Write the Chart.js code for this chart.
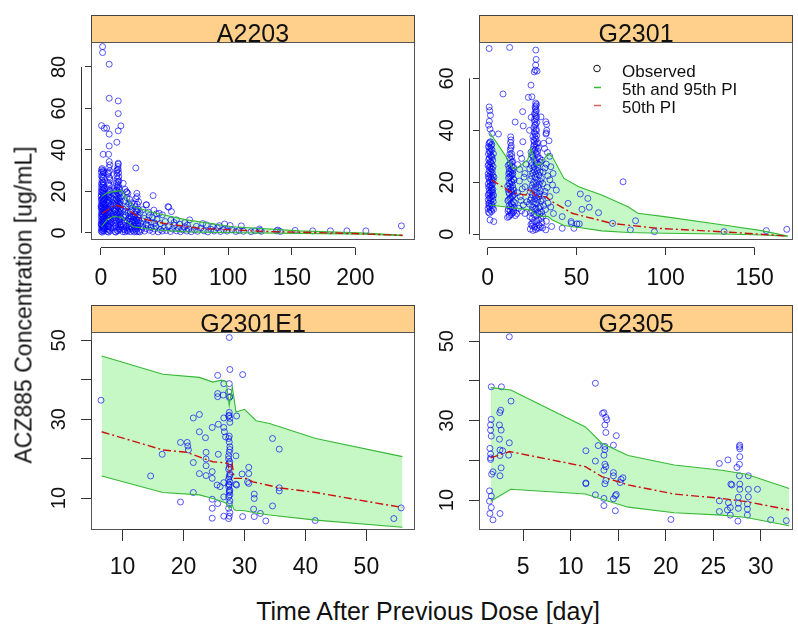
<!DOCTYPE html>
<html>
<head>
<meta charset="utf-8">
<title>ACZ885 VPC by study</title>
<script src="https://cdn.jsdelivr.net/npm/chart.js@4.4.1/dist/chart.umd.min.js"></script>
<style>
  html, body { margin: 0; padding: 0; background: #fff; }
  #page { position: relative; width: 798px; height: 624px; overflow: hidden;
          font-family: "Liberation Sans", Arial, sans-serif; color: #111; }
  #page canvas { position: absolute; }
  .ttl { position: absolute; white-space: nowrap; line-height: 1; }
  #ylab { left: 24px; top: 305px; font-size: 23px; transform: translate(-50%, -50%) rotate(-90deg); }
  #xlab { left: 428px; top: 599px; font-size: 25px; transform: translateX(-50%); }
</style>
</head>
<body>
<div id="page">
  <canvas id="p1" width="420" height="300" style="left:0;top:0"></canvas>
  <canvas id="p2" width="398" height="300" style="left:400px;top:0"></canvas>
  <canvas id="p3" width="420" height="300" style="left:0;top:290px"></canvas>
  <canvas id="p4" width="398" height="300" style="left:400px;top:290px"></canvas>
  <div class="ttl" id="ylab">ACZ885 Concentration [ug/mL]</div>
  <div class="ttl" id="xlab">Time After Previous Dose [day]</div>
</div>
<script>
// ---- A2203 ----
const a2203Obs = [
  [1.3,89.8],[1.3,86.9],[6.5,81.3],[6.5,64.9],[13.6,63.6],[13.6,57.5],[15.7,51.6],[0.5,51.7],[2.6,50.4],[4.5,50.5],
  [13.6,49.2],[6.5,47.6],[12.5,43.7],[6.5,41.9],[1.8,37.9],[6.0,37.9],[6.5,34.4],[13.6,33.1],[27.4,31.3],[41,18],
  [53.3,12.4],[35.5,13.6],[20.4,19.6],[7.0,32.8],[13.6,33.6],[12.3,30.0],[1.8,29.5],[17.5,23.9],[20.1,19.9],
  [0.3,0.8],[1.5,1.2],[2.5,1.8],[0.8,2.5],[2.0,3.2],[0.4,4.0],[1.6,4.8],[2.8,5.5],[0.9,6.3],[2.2,7.0],[0.3,7.8],
  [1.4,8.6],[2.6,9.4],[0.7,10.2],[1.9,11.0],[0.2,11.8],[1.2,12.6],[2.4,13.4],[0.6,14.2],[1.8,15.0],[0.3,15.8],
  [1.1,16.6],[2.3,17.4],[0.5,18.2],[1.6,19.0],[0.2,19.8],[1.3,20.6],[2.5,21.4],[0.6,22.2],[1.7,23.0],[0.4,23.8],
  [1.5,24.6],[0.8,25.5],[2.0,26.4],[0.5,27.3],[1.3,28.2],[0.3,29.2],[1.6,30.0],[0.9,31.0],[2.1,5.8],[0.5,3.5],
  [2.9,2.3],[1.0,9.0],[2.8,12.0],[0.1,13.0],[2.6,16.0],
  [1.0,0.4],[2.2,0.9],[0.5,1.6],[1.8,2.1],[2.6,2.9],[1.2,3.6],[0.2,4.4],[2.4,4.6],[1.0,5.2],[0.4,6.0],
  [1.7,6.6],[2.7,7.4],[0.9,7.6],[1.8,8.2],[0.4,9.2],[2.2,9.8],[1.3,10.6],[2.6,11.2],[0.8,11.6],[1.9,12.4],
  [0.4,12.8],[2.0,13.8],[1.0,14.6],[2.3,15.4],[0.8,16.2],[1.8,17.0],[0.2,17.6],[2.4,18.6],[1.0,19.4],[2.1,20.2],
  [0.6,21.0],[1.6,21.8],[0.9,23.4],[2.0,24.2],[1.2,26.9],[2.3,29.0],[0.6,30.4],
  [5.2,0.7],[6.5,1.5],[7.8,2.4],[5.6,3.3],[6.9,4.2],[8.2,5.1],[5.3,6.0],[6.6,7.0],[7.6,8.0],[5.8,9.0],
  [7.1,10.0],[6.2,11.0],[5.4,12.0],[7.4,13.0],[6.0,14.0],[6.8,15.0],[5.5,16.0],[7.2,17.0],[6.3,18.0],[5.7,19.0],
  [7.0,20.0],[6.1,21.0],[6.7,22.5],[5.9,24.0],[7.3,25.5],[6.4,27.0],[5.6,28.5],[6.9,30.0],[6.2,31.5],[5.8,3.0],[7.5,6.5],
  [6.0,0.4],[7.2,1.0],[5.5,1.9],[6.9,2.8],[6.2,3.7],[7.6,4.6],[5.9,5.5],[7.1,6.0],[6.3,7.5],[5.5,8.4],
  [7.9,9.4],[6.5,9.6],[5.9,10.5],[7.3,11.5],[6.6,12.5],[7.8,13.5],[5.8,14.6],[6.4,15.6],[7.6,16.5],[5.9,17.4],
  [6.9,18.5],[6.0,19.6],[7.4,20.6],[6.5,23.2],[7.0,26.3],[6.0,29.2],
  [11.2,0.6],[12.6,1.3],[14.0,2.0],[15.4,2.8],[11.8,3.6],[13.2,4.4],[14.6,5.2],[12.0,6.0],[13.5,6.8],[15.0,7.6],
  [11.5,8.4],[12.9,9.2],[14.3,10.0],[15.6,10.8],[12.2,11.6],[13.8,12.4],[11.4,13.2],[14.8,14.0],[12.7,14.8],[13.3,15.6],
  [11.9,16.4],[15.2,17.2],[12.4,18.0],[14.1,18.8],[13.0,19.6],[11.6,20.4],[14.5,21.2],[12.8,22.0],[13.6,23.0],[12.1,24.0],
  [14.2,25.0],[13.1,26.0],[12.5,27.5],[13.9,29.0],[12.9,30.5],[13.4,32.0],[15.9,4.0],[11.0,10.5],
  [11.7,0.4],[13.3,1.0],[14.7,1.6],[12.3,2.4],[13.6,3.1],[15.0,3.9],[11.4,4.8],[12.7,5.5],[14.2,6.3],[15.5,7.0],
  [11.8,7.4],[13.0,8.0],[14.5,8.7],[12.3,9.8],[13.6,10.4],[11.6,11.0],[15.0,11.8],[13.0,12.8],[14.4,13.6],[12.0,14.2],
  [13.7,14.4],[15.3,15.3],[12.5,16.0],[14.0,16.8],[13.2,17.6],[11.8,18.6],[14.8,19.4],[12.6,20.6],[13.9,21.6],[12.3,22.8],
  [13.3,24.6],[14.0,27.0],[12.6,28.8],[13.6,30.6],
  [17.2,0.6],[18.5,1.5],[19.8,2.5],[21.0,0.9],[22.4,1.9],[23.7,3.0],[25.0,1.2],[17.8,3.8],[19.2,4.8],[20.6,5.9],
  [22.0,4.2],[23.3,6.8],[24.6,5.3],[18.0,7.5],[19.6,8.6],[21.3,9.8],[22.8,8.1],[24.3,10.9],[17.5,11.5],[20.0,12.5],
  [21.8,14.0],[23.5,12.9],[18.8,15.5],[20.4,17.0],[22.5,16.2],[19.0,21.0],[21.2,19.0],[25.5,8.0],[24.0,14.5],
  [17.9,1.9],[19.0,0.5],[20.4,1.3],[21.7,2.6],[23.0,0.6],[24.4,2.2],[25.7,3.6],[18.6,5.5],[20.1,3.4],[21.5,6.8],
  [22.9,5.4],[24.0,7.8],[25.3,6.4],[26.8,2.1],[28.0,0.6],[29.2,3.2],[27.2,4.9],[28.4,6.0],[29.4,8.6],[26.3,7.6],
  [27.6,10.8],[26.5,14.0],[19.0,10.5],[23.0,10.0],
  [26.2,0.5],[27.3,1.3],[28.4,2.1],[29.5,0.8],[26.6,3.0],[27.8,3.9],[28.9,4.8],[26.4,5.8],[27.6,6.8],[28.8,7.8],
  [29.8,6.0],[26.9,9.0],[28.1,10.2],[29.3,11.4],[27.0,12.6],[28.6,13.8],[29.6,15.0],[27.5,16.5],[28.2,19.1],[28.4,17.5],
  [30.5,0.5],[31.8,1.6],[33.0,2.7],[34.3,0.9],[35.6,2.1],[36.9,3.5],[38.2,1.3],[39.5,2.6],[40.8,0.7],[42.0,1.9],
  [43.3,3.2],[31.2,4.6],[32.6,5.8],[34.0,7.0],[35.4,4.1],[36.8,6.2],[38.0,8.4],[39.4,5.2],[40.6,7.4],[42.2,4.8],
  [43.6,9.2],[30.8,9.8],[32.8,11.2],[35.8,13.5],[37.5,10.0],[41.6,11.0],[44.0,6.5],
  [45.0,0.5],[46.6,1.6],[48.2,0.9],[49.8,2.4],[51.4,1.2],[53.0,3.0],[54.6,0.7],[56.2,1.9],[57.8,3.6],[59.4,1.0],
  [61.0,2.2],[62.6,0.6],[64.2,1.5],[65.8,3.0],[67.4,0.9],[69.0,2.0],[45.7,9.5],[48.3,8.7],[46.5,4.5],[50.5,5.5],
  [52.7,12.7],[55.4,10.3],[55.0,6.2],[57.5,5.0],[59.3,6.3],[62.0,4.2],[66.0,5.0],[69.7,6.3],[68.0,3.8],
  [71.0,0.6],[73.5,1.5],[76.0,0.8],[78.5,2.3],[81.0,1.0],[82.8,3.9],[84.0,0.5],[86.5,1.7],[89.0,0.9],[91.5,2.4],
  [94.0,0.7],[96.5,1.5],[97.2,4.3],[99.0,0.9],[101.5,3.6],[103.0,1.6],[106.0,0.7],[108.5,1.2],[110.3,3.4],[112.0,0.8],
  [75.0,3.2],[80.0,4.5],[88.0,3.0],[93.0,3.5],
  [118,0.6],[121,1.0],[124.6,1.9],[126,0.8],[139,1.4],[141,0.7],[152.6,1.2],[166.4,1.0],[180.3,1.0],[193.3,1.0],
  [208.2,1.0],[236.1,3.4],[125,1.2],[138,1.0]
];
const a2203BandX = [0.5, 5, 9.7, 16.2, 25.3, 43.6, 67.2, 103.7, 156, 208, 237];
const a2203Upper = [17.5, 19.3, 19.9, 20.4, 12.7, 9.5, 6.3, 3.0, 1.0, 0.0, -1.1];
const a2203Lower = [3.0, 6.5, 7.9, 7.6, 3.0, 1.4, 0.5, 0.1, -0.2, -0.6, -1.3];
const a2203MedX = [1.3, 11, 20, 30.6, 48.8, 77.6, 130, 182, 237];
const a2203Med = [9.5, 13.5, 11.9, 7.1, 4.7, 2.2, 0.7, 0.0, -1.1];
const a2203XTicks = [0, 50, 100, 150, 200];
const a2203YTicks = [0, 20, 40, 60, 80];

// ---- G2301 ----
const g2301Obs = [
  [0.9,71.5],[12.4,71.9],[27.1,70.9],[27.3,67.3],[27.0,65.1],[26.8,63.2],[26.2,62.5],[27.8,62.8],[24.4,57.4],[22.9,52.7],
  [24.9,52.9],[8.7,54.0],[0.9,49.0],[1.2,47.6],[1.6,45.8],[1.0,43.5],[0.6,42.0],[1.4,40.5],[6.1,38.6],[2.5,38.8],
  [19.7,47.2],[15.5,43.2],[20.0,41.7],[30.0,45.2],[32.7,43.3],[33.2,42.3],[33.2,40.0],[32.8,38.6],[13.0,37.5],[13.2,36.3],
  [19.8,35.6],[18.3,31.1],[19.2,29.2],[21.0,23.4],[21.0,18.3],[18.3,14.5],[20.1,11.3],[21.0,8.0],
  [0.5,8.5],[1.6,9.3],[2.7,10.1],[0.9,10.9],[2.1,11.7],[3.2,12.5],[0.4,13.3],[1.5,14.1],[2.6,14.9],[0.8,15.7],
  [1.9,16.5],[3.0,17.3],[0.6,18.1],[1.7,18.9],[2.8,19.7],[1.1,20.5],[2.3,21.3],[0.5,22.1],[1.4,22.9],[2.6,23.7],
  [0.9,24.5],[2.0,25.3],[3.1,26.1],[0.7,26.9],[1.8,27.7],[2.9,28.5],[1.0,29.3],[2.2,30.1],[0.5,30.9],[1.5,31.7],
  [2.5,32.5],[1.2,33.3],[2.0,34.1],[0.8,34.9],[1.6,35.6],[1.4,5.5],[3.5,4.9],[1.0,12.0],[2.4,17.0],[1.3,26.0],
  [1.1,8.1],[2.3,8.8],[3.4,9.6],[0.3,9.9],[1.3,10.5],[2.5,11.1],[0.6,11.8],[1.8,12.9],[3.0,13.7],[1.1,13.9],
  [2.2,14.5],[0.4,15.1],[1.4,15.9],[2.8,16.2],[0.9,16.9],[2.1,17.8],[1.2,18.5],[2.5,19.0],[0.4,19.4],[1.6,20.0],
  [3.1,20.8],[0.8,21.6],[1.9,22.0],[2.9,22.6],[0.4,23.3],[1.7,24.0],[2.7,25.0],[1.3,25.7],[0.3,26.4],[2.3,27.1],
  [1.4,28.0],[0.6,28.7],[2.5,29.6],[1.6,30.4],[0.9,32.0],[1.9,32.9],[0.5,33.7],[2.4,34.6],[1.2,35.3],[3.3,31.0],
  [3.6,22.0],[3.4,15.0],
  [11.2,6.5],[12.4,7.3],[13.6,8.1],[14.8,8.9],[11.7,9.7],[12.9,10.5],[14.1,11.3],[15.2,12.1],[11.4,12.9],[12.6,13.7],
  [13.8,14.5],[15.0,15.3],[11.9,16.1],[13.1,16.9],[14.3,17.7],[11.3,18.5],[12.5,19.3],[13.7,20.1],[14.9,20.9],[11.8,21.7],
  [13.0,22.5],[14.2,23.3],[12.2,24.1],[13.4,24.9],[14.6,25.7],[11.6,26.5],[12.8,27.3],[14.0,28.1],[12.3,29.5],[13.5,31.0],
  [12.7,32.5],[13.3,34.0],[12.9,35.3],[15.6,7.2],[16.5,8.0],
  [12.0,6.8],[13.2,7.6],[14.4,8.4],[11.5,8.9],[12.7,9.0],[13.9,9.8],[15.0,10.3],[12.1,11.0],[13.3,11.9],[14.5,12.6],
  [11.8,13.3],[13.0,14.1],[14.2,14.9],[12.3,15.5],[13.5,16.3],[14.7,16.9],[11.6,17.3],[12.9,18.0],[14.0,18.8],[12.1,19.7],
  [13.3,20.5],[14.5,21.4],[12.5,22.0],[13.7,22.9],[11.9,23.3],[13.0,23.8],[14.3,24.5],[12.1,25.3],[13.5,26.2],[12.4,26.9],
  [13.8,27.7],[12.9,28.8],[13.6,29.9],[12.5,30.8],[13.1,33.3],
  [17.5,10.0],[18.8,13.0],[16.8,16.0],[19.5,17.5],[17.9,20.5],[20.5,22.0],[18.0,25.0],[21.5,27.0],[19.0,9.0],[22.0,12.5],[16.9,26.8],
  [24.0,2.0],[26.5,2.8],[28.8,3.6],[25.2,4.4],[27.6,5.2],[29.9,6.0],[23.8,6.8],[26.0,7.6],[28.2,8.4],[24.9,9.2],
  [27.2,10.0],[29.5,10.8],[23.5,11.6],[25.8,12.4],[28.0,13.2],[24.6,14.0],[26.9,14.8],[29.2,15.6],[23.9,16.4],[26.2,17.2],
  [28.5,18.0],[25.0,18.8],[27.4,19.6],[29.7,20.4],[24.2,21.2],[26.6,22.0],[28.9,22.8],[25.4,23.6],[27.8,24.4],[23.7,25.2],
  [26.1,26.0],[28.4,26.8],[24.8,27.6],[27.1,28.4],[29.3,29.2],[25.6,30.0],[27.9,30.8],[24.4,31.6],[26.7,32.4],[28.6,33.2],
  [25.9,34.0],[27.5,34.8],[26.3,35.6],[27.2,36.6],[25.5,37.6],[26.8,38.6],[27.4,39.8],[26.0,41.0],[27.0,42.2],[26.5,43.4],
  [27.3,44.6],[26.7,45.8],[27.1,47.0],[26.9,48.2],[27.2,49.4],[27.0,50.5],[25.1,3.2],[27.0,1.8],[29.0,2.4],[30.5,4.5],
  [24.5,45.0],[23.6,40.0],
  [25.5,1.5],[27.8,2.3],[29.6,3.0],[24.4,3.8],[26.4,4.8],[28.6,5.6],[25.1,6.1],[27.4,7.2],[29.3,7.8],[24.2,8.3],
  [26.5,9.6],[28.8,10.2],[25.3,10.6],[27.5,11.8],[29.9,12.7],[24.1,13.1],[26.4,13.6],[28.7,14.4],[25.2,15.2],[27.8,16.0],
  [29.8,16.8],[24.6,17.6],[27.0,18.3],[29.0,19.2],[25.8,20.0],[28.1,20.8],[24.8,22.4],[27.1,23.2],[29.5,24.0],[26.0,24.8],
  [28.2,25.6],[24.7,26.4],[27.3,27.2],[29.6,27.8],[26.0,28.8],[28.3,29.6],[25.0,30.4],[27.0,31.2],[28.1,32.0],[25.6,32.8],
  [27.3,33.6],[26.4,34.5],[28.2,35.2],[25.9,36.2],[26.6,37.2],[27.6,38.0],[26.2,39.3],[27.3,40.5],[26.5,42.0],[27.6,43.0],
  [26.3,44.2],[27.5,45.3],[26.4,46.5],[27.4,47.6],[26.7,49.0],[27.5,50.0],
  [31.0,7.0],[32.5,9.5],[34.0,12.0],[31.8,15.0],[33.5,18.0],[35.0,21.0],[31.2,24.0],[33.0,27.0],[34.9,30.0],[32.0,33.0],
  [34.5,36.0],[36.8,23.4],[38.6,17.0],[34.9,14.5],[35.5,10.5],[33.0,5.0],[36.0,3.0],[32.7,1.7],[37.0,8.0],
  [30.4,8.5],[31.5,11.0],[30.8,13.5],[32.3,16.5],[31.0,19.5],[33.8,22.5],[32.2,25.5],[30.6,28.5],[33.6,31.5],[31.5,35.0],
  [33.0,39.0],[35.5,26.0],[36.5,19.0],[30.2,21.5],[30.9,2.5],
  [41.9,6.8],[52.1,15.5],[56.3,13.8],[57.1,10.4],[53.0,9.6],[45.2,11.9],[62.3,8.3],[47.1,4.2],[50.2,4.0],[51.5,4.0],
  [41.9,2.3],[48.5,2.3],[70.2,4.2],[76.1,20.2],[83.1,5.2],[80.2,1.7],[93.7,1.0],[132.8,1.0],[156.5,1.4],[168.0,1.9],[46.9,4.9]
];
const g2301BandX = [1.3, 10.5, 14.2, 16.4, 22.5, 24.4, 27.2, 29.8, 34.0, 36.4, 42.9, 51.2, 64.1, 78.9, 84.4, 99.2, 132.5, 154.7, 168.5];
const g2301Upper = [39.1, 29.8, 25.4, 25.4, 28.6, 33.1, 26.7, 27.0, 31.2, 29.8, 21.5, 18.3, 15.1, 10.6, 8.1, 6.8, 3.6, 1.3, -0.7];
const g2301Lower = [11.3, 10.5, 10.1, 9.9, 9.5, 9.3, 7.4, 7.0, 6.8, 5.5, 3.4, 2.6, 1.3, 0.7, 0.6, 0.4, 0.1, -0.3, -0.7];
const g2301MedX = [2.2, 14.2, 21.6, 23.4, 27.2, 32.7, 36.4, 47.5, 69.6, 95.5, 136.1, 168.5];
const g2301Med = [20.9, 15.8, 15.1, 17.7, 14.5, 14.5, 12.5, 8.1, 4.2, 2.3, 0.8, -0.7];
const g2301XTicks = [0, 50, 100, 150];
const g2301YTicks = [0, 20, 40, 60];

// ---- G2301E1 ----
const g2301e1Obs = [
  [6.46,34.8],[14.6,15.6],[16.5,21.1],[19.5,24.1],[20.6,24.1],[20.7,23.2],[20.8,22.2],[19.5,9.0],[21.6,19.0],[21.6,30.3],
  [22.6,31.2],[21.6,11.4],[22.6,26.8],[22.6,16.2],[23.6,25.3],[23.7,21.6],[23.7,19.9],[23.7,18.2],[23.7,15.7],[24.7,27.9],
  [24.7,16.7],[24.7,15.0],[24.7,9.7],[24.7,7.4],[24.7,4.9],[25.6,41.1],[25.6,36.5],[25.6,35.7],[26.5,36.1],[25.7,28.7],
  [25.7,21.1],[25.5,13.3],[26.0,12.9],[25.6,8.6],[26.6,39.0],[26.6,30.3],[26.6,27.9],[26.7,26.8],[26.6,13.9],[26.6,10.3],
  [26.6,5.4],[26.9,25.5],
  [27.5,50.7],[27.6,42.6],[27.5,39.0],[27.4,36.9],[27.6,35.7],[27.5,35.5],[27.5,31.7],[27.4,30.8],[27.6,29.2],[27.5,25.7],
  [27.4,25.1],[27.6,23.0],[27.5,21.6],[27.4,20.7],[27.6,19.2],[27.5,18.8],[27.4,17.3],[27.6,16.2],[27.5,15.4],[27.4,14.8],
  [27.6,14.1],[27.5,13.3],[27.4,12.9],[27.6,12.0],[27.5,11.4],[27.4,10.3],[27.6,9.3],[27.5,8.6],[27.4,7.4],[27.6,6.3],
  [27.5,5.4],[27.4,4.8],[27.5,24.2],[27.6,22.3],[27.4,19.9],[27.5,17.8],[27.6,15.8],[27.4,13.6],[27.5,11.8],[27.6,10.8],
  [27.5,31.0],[27.6,30.2],
  [28.6,20.7],[28.6,13.5],[28.7,30.8],[28.7,13.3],[29.7,41.3],[29.7,5.3],[29.6,16.1],[30.7,17.8],[30.7,16.2],[30.5,14.1],
  [30.7,13.7],[31.6,11.0],[31.6,9.9],[31.5,7.2],[31.6,5.3],[32.6,6.1],[33.5,4.2],[34.6,25.1],[34.6,8.0],[35.7,22.4],
  [35.7,12.6],[35.7,11.8],[41.6,4.3],[54.5,4.8],[55.7,7.5]
];
const g2301e1BandX = [6.57, 16.6, 22.6, 24.8, 26.2, 27.0, 27.5, 28.0, 28.3, 28.6, 30.0, 31.9, 34.1, 41.7, 55.9];
const g2301e1Upper = [46.0, 41.4, 40.6, 39.4, 39.9, 39.5, 33.5, 38.2, 35.0, 31.8, 32.5, 29.6, 28.9, 25.1, 20.5];
const g2301e1Lower = [15.6, 11.4, 10.8, 9.9, 9.2, 8.7, 7.4, 8.2, 7.0, 6.9, 6.8, 6.2, 5.7, 4.4, 2.6];
const g2301e1MedX = [6.57, 16.6, 20.5, 24.8, 26.3, 27.3, 27.5, 28.0, 28.3, 30.3, 31.4, 35.7, 41.7, 55.9];
const g2301e1Med = [26.8, 22.2, 21.6, 19.2, 19.0, 18.8, 16.7, 18.4, 15.0, 15.0, 14.1, 12.6, 11.4, 7.6];
const g2301e1XTicks = [10, 20, 30, 40, 50];
const g2301e1YTicks = [10, 20, 30, 40, 50];
const g2301e1YLabels = ['10', '', '30', '', '50'];

// ---- G2305 ----
const g2305Obs = [
  [3.54,51.1],[1.64,38.5],[2.71,38.5],[3.72,34.9],[2.64,32.6],[2.54,32.0],[1.64,30.3],[1.57,28.9],[2.5,28.9],[1.57,27.6],
  [2.68,27.6],[1.64,26.1],[2.5,25.3],[3.54,24.4],[1.5,23.0],[2.56,22.6],[2.84,22.4],[1.57,21.6],[1.57,20.6],[1.57,20.2],
  [2.56,21.2],[3.47,21.3],[2.68,18.1],[1.82,17.1],[1.68,16.5],[2.56,16.1],[1.46,12.3],[1.64,11.0],[1.46,9.7],[1.64,8.1],
  [1.5,6.6],[1.82,5.0],[2.56,6.6],
  [12.6,39.4],[13.35,31.8],[13.5,32.0],[13.7,30.8],[13.8,30.2],[13.6,28.9],[13.7,27.0],[14.8,26.2],[11.6,22.4],[12.9,23.7],
  [13.6,23.5],[13.6,22.7],[13.5,21.3],[14.5,23.8],[12.6,19.8],[13.6,19.0],[13.7,18.4],[13.5,17.5],[14.5,16.9],[14.5,16.1],
  [13.7,14.9],[13.6,14.1],[11.6,14.1],[11.6,14.3],[15.3,15.2],[15.5,15.6],[15.2,14.4],[12.6,11.3],[13.5,10.4],[14.7,11.1],
  [14.5,10.3],[14.8,11.4],[13.5,8.6],[14.7,7.3],
  [20.55,5.1],[25.65,19.2],[26.55,20.1],[27.5,18.2],[27.76,19.0],[27.76,23.4],[27.8,22.9],[27.8,23.8],[27.8,20.9],[27.76,16.1],
  [28.7,16.1],[26.86,14.0],[26.97,13.8],[27.8,14.0],[27.8,12.7],[28.7,12.7],[29.66,12.7],[27.65,10.7],[28.7,10.8],[25.65,9.8],
  [26.6,9.3],[26.8,8.1],[27.65,9.2],[27.65,7.9],[28.6,9.0],[28.6,7.7],[28.6,6.2],[25.65,7.1],[26.5,7.5],[26.8,6.2],
  [27.6,4.7],[31.05,5.0],[32.7,4.8]
];
const g2305BandX = [1.57, 3.7, 11.55, 13.28, 16.05, 20.9, 25.9, 28.5, 33.0];
const g2305Upper = [38.3, 37.7, 28.4, 24.3, 21.2, 18.8, 17.5, 16.5, 12.9];
const g2305Lower = [9.7, 12.7, 11.5, 10.2, 8.2, 6.8, 6.2, 5.6, 3.5];
const g2305MedX = [1.57, 3.58, 11.55, 13.28, 16.05, 20.9, 25.9, 28.5, 33.0];
const g2305Med = [20.6, 22.2, 18.4, 15.9, 13.8, 11.5, 10.4, 9.6, 7.5];
const g2305XTicks = [5, 10, 15, 20, 25, 30];
const g2305YTicks = [10, 20, 30, 40, 50];
const g2305YLabels = ['10', '', '30', '', '50'];

const legendItems = ['Observed', '5th and 95th PI', '50th PI'];

Chart.defaults.font.family = '"Liberation Sans", Arial, sans-serif';
Chart.defaults.color = '#111';

const FONT = '"Liberation Sans", Arial, sans-serif';
const GREEN = '#36B936';
const BAND = '#C6F8C6';
const RED = '#CC1010';
const OBS = 'rgba(0,0,255,0.65)';

const toPts = arr => arr.map(([x, y]) => ({ x, y }));
const toLine = (xs, ys) => xs.map((x, i) => ({ x, y: ys[i] }));

// strip header, plot box, detached axis lines and (optionally) the legend
const framePlugin = {
  id: 'frame',
  afterDraw(chart, args, o) {
    const { ctx, chartArea: a } = chart;
    ctx.save();
    // strip
    ctx.fillStyle = '#FFD08C';
    ctx.fillRect(a.left, 15, a.right - a.left, a.top - 15);
    ctx.save();
    ctx.beginPath();
    ctx.rect(a.left, 15, a.right - a.left, a.top - 15);
    ctx.clip();
    ctx.font = '25px ' + FONT;
    ctx.fillStyle = '#111';
    ctx.textAlign = 'center';
    ctx.textBaseline = 'alphabetic';
    ctx.fillText(o.title, (a.left + a.right) / 2, a.top - 0.5);
    ctx.restore();
    ctx.strokeStyle = '#444';
    ctx.lineWidth = 1;
    ctx.strokeRect(a.left + 0.5, 15.5, a.right - a.left - 1, a.top - 15);
    // box
    ctx.strokeStyle = '#555';
    ctx.strokeRect(a.left + 0.5, a.top + 0.5, a.right - a.left - 1, a.bottom - a.top - 1);

    // axis lines spanning the first to last tick
    const xs = chart.scales.x, ys = chart.scales.y;
    ctx.strokeStyle = '#333';
    ctx.beginPath();
    const yx = Math.round(a.left - o.gapY) + 0.5;
    ctx.moveTo(yx, ys.getPixelForValue(ys.ticks[0].value));
    ctx.lineTo(yx, ys.getPixelForValue(ys.ticks[ys.ticks.length - 1].value));
    const xy = Math.round(a.bottom + o.gapX) - 0.5;
    ctx.moveTo(xs.getPixelForValue(xs.ticks[0].value), xy);
    ctx.lineTo(xs.getPixelForValue(xs.ticks[xs.ticks.length - 1].value), xy);
    ctx.stroke();

    if (o.legend) {
      const lx = 197, tx = 222;
      ctx.font = '17px ' + FONT;
      ctx.fillStyle = '#111';
      ctx.textAlign = 'left';
      ctx.textBaseline = 'middle';
      ctx.strokeStyle = '#111';
      ctx.beginPath();
      ctx.arc(lx, 68.5, 3.3, 0, Math.PI * 2);
      ctx.stroke();
      ctx.fillText(legendItems[0], tx, 72.5);
      ctx.strokeStyle = GREEN;
      ctx.lineWidth = 1.5;
      ctx.beginPath();
      ctx.moveTo(lx - 3, 87.5); ctx.lineTo(lx + 4, 87.5);
      ctx.stroke();
      ctx.fillText(legendItems[1], tx, 90.5);
      ctx.strokeStyle = '#D86060';
      ctx.beginPath();
      ctx.moveTo(lx - 3, 105.5); ctx.lineTo(lx + 4, 105.5);
      ctx.stroke();
      ctx.fillText(legendItems[2], tx, 108);
    }
    ctx.restore();
  }
};

function buildPanel(p) {
  const canvas = document.getElementById(p.id);
  const W = canvas.width;
  const detached = p.detached;
  const xTickLen = detached ? 15 : 11;
  const yTickLen = detached ? 16 : 10;
  return new Chart(canvas, {
    type: 'scatter',
    data: {
      datasets: [
        { type: 'line', data: toLine(p.medX, p.med), borderColor: RED, borderWidth: 1.4,
          borderDash: [8, 3, 2, 3], pointRadius: 0, fill: false, tension: 0, order: 0 },
        { type: 'line', data: toLine(p.bandX, p.upper), borderColor: GREEN, borderWidth: 1.1,
          backgroundColor: BAND, pointRadius: 0, fill: '+1', tension: 0, order: 0 },
        { type: 'line', data: toLine(p.bandX, p.lower), borderColor: GREEN, borderWidth: 1.1,
          pointRadius: 0, fill: false, tension: 0, order: 0 },
        { data: toPts(p.obs), borderColor: OBS, backgroundColor: 'rgba(0,0,0,0)',
          pointRadius: 3, pointBorderWidth: 1, order: 1 }
      ]
    },
    options: {
      responsive: false,
      animation: false,
      events: [],
      layout: { padding: { left: p.left - 40, right: W - p.right, top: 42, bottom: 10 } },
      plugins: {
        legend: { display: false },
        tooltip: { enabled: false },
        filler: { drawTime: 'beforeDatasetsDraw' },
        frame: { title: p.title, legend: !!p.legend, gapX: detached ? 8 : 0, gapY: detached ? 10 : 0 }
      },
      scales: {
        x: {
          type: 'linear', min: p.xMin, max: p.xMax,
          afterBuildTicks: s => { s.ticks = p.xTicks.map(v => ({ value: v })); },
          afterFit: s => { s.height = 50; },
          border: { display: false },
          grid: { drawOnChartArea: false, tickLength: xTickLen, tickColor: '#333', tickWidth: 1,
                  tickBorderDash: detached ? [0, 8, 7, 100] : [] },
          ticks: { font: { size: 23 }, color: '#111', padding: detached ? 10 : 13,
                   autoSkip: false, maxRotation: 0, callback: (v, i) => String(p.xTicks[i]) }
        },
        y: {
          type: 'linear', min: p.yMin, max: p.yMax,
          afterBuildTicks: s => { s.ticks = p.yTicks.map(v => ({ value: v })); },
          afterFit: s => { s.width = 40; },
          border: { display: false },
          grid: { drawOnChartArea: false, tickLength: yTickLen, tickColor: '#333', tickWidth: 1,
                  tickBorderDash: detached ? [0, 10, 6, 100] : [] },
          ticks: { font: { size: 20 }, color: '#111', padding: detached ? 4 : 10,
                   autoSkip: false, minRotation: 90, maxRotation: 90, crossAlign: 'center',
                   callback: (v, i) => p.yLabels ? p.yLabels[i] : String(p.yTicks[i]) }
        }
      }
    },
    plugins: [framePlugin]
  });
}

buildPanel({ id: 'p1', title: 'A2203', left: 91, right: 416, detached: true,
  xMin: -7.8, xMax: 246.8, yMin: -3.4, yMax: 92, xTicks: a2203XTicks, yTicks: a2203YTicks,
  obs: a2203Obs, bandX: a2203BandX, upper: a2203Upper, lower: a2203Lower, medX: a2203MedX, med: a2203Med });
buildPanel({ id: 'p2', title: 'G2301', left: 79, right: 397, detached: true, legend: true,
  xMin: -4.8, xMax: 171.5, yMin: -2.2, yMax: 74, xTicks: g2301XTicks, yTicks: g2301YTicks,
  obs: g2301Obs, bandX: g2301BandX, upper: g2301Upper, lower: g2301Lower, medX: g2301MedX, med: g2301Med });
buildPanel({ id: 'p3', title: 'G2301E1', left: 91, right: 416, detached: false,
  xMin: 4.82, xMax: 57.97, yMin: 1.9, yMax: 52.1, xTicks: g2301e1XTicks, yTicks: g2301e1YTicks, yLabels: g2301e1YLabels,
  obs: g2301e1Obs, bandX: g2301e1BandX, upper: g2301e1Upper, lower: g2301e1Lower, medX: g2301e1MedX, med: g2301e1Med });
buildPanel({ id: 'p4', title: 'G2305', left: 79, right: 397, detached: false,
  xMin: 0.35, xMax: 33.4, yMin: 2.45, yMax: 52.3, xTicks: g2305XTicks, yTicks: g2305YTicks, yLabels: g2305YLabels,
  obs: g2305Obs, bandX: g2305BandX, upper: g2305Upper, lower: g2305Lower, medX: g2305MedX, med: g2305Med });
</script>
</body>
</html>
